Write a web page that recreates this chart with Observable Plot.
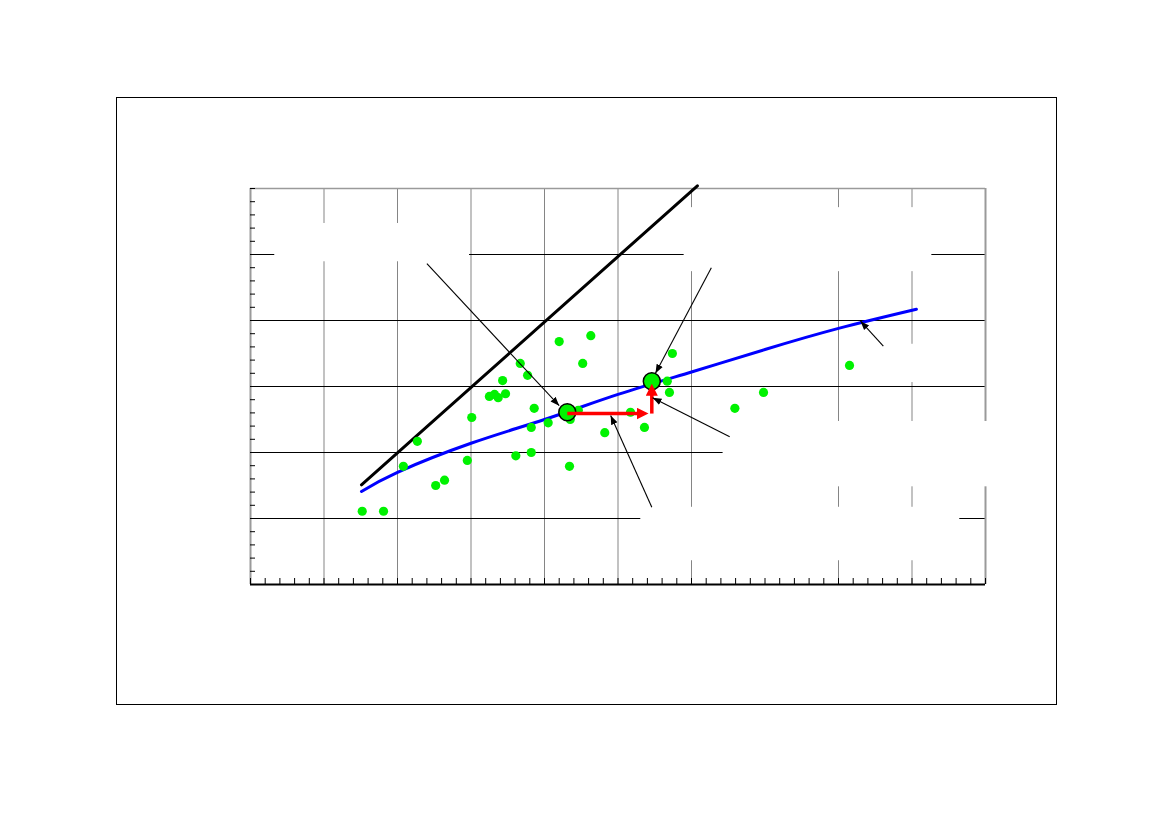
<!DOCTYPE html>
<html>
<head>
<meta charset="utf-8">
<script src="https://cdn.jsdelivr.net/npm/d3@7"></script>
<script src="https://cdn.jsdelivr.net/npm/@observablehq/plot@0.6"></script>
<style>
html, body { margin: 0; padding: 0; background: #fff; }
#wrap { position: relative; width: 1169px; height: 827px; }
#frame { position: absolute; left: 116px; top: 97px; width: 939px; height: 606px; border: 1px solid #000; }
#chart { position: absolute; left: 0; top: 0; }
</style>
</head>
<body>
<div id="wrap"><div id="frame"></div><div id="chart"></div></div>
<script>
// observed points (green)
const obsX = [1.52, 1.81, 2.08, 2.27, 2.52, 2.64, 2.95, 3.01, 3.25, 3.32, 3.37, 3.47, 3.43, 3.67, 3.77, 3.86, 3.82, 3.61, 3.82, 4.20, 4.63, 4.52, 5.74, 4.05, 4.35, 4.46, 4.82, 5.17, 5.36, 5.67, 5.70, 4.34, 6.59, 6.98, 8.15];
const obsY = [1.11, 1.11, 1.79, 2.17, 1.50, 1.58, 1.88, 2.53, 2.85, 2.88, 2.83, 2.89, 3.09, 3.35, 3.17, 2.67, 2.38, 1.95, 2.00, 3.68, 3.77, 3.35, 3.50, 2.45, 2.50, 2.64, 2.30, 2.61, 2.38, 3.08, 2.91, 1.79, 2.67, 2.91, 3.32];

// highlighted points (big circles)
const hiX = [4.31, 5.46];
const hiY = [2.61, 3.08];

// fitted curve (blue)
const fitX = [1.51, 2.0, 3.0, 4.0, 5.0, 6.0, 7.0, 8.0, 9.06];
const fitY = [1.41, 1.70, 2.14, 2.50, 2.88, 3.22, 3.56, 3.88, 4.17];

// 1:1 line (black)
const lineX = [1.51, 6.08];
const lineY = [1.51, 6.04];

// red step arrows
const stepX1 = [4.31, 5.46];
const stepY1 = [2.59, 2.59];
const stepX2 = [5.35, 5.46];
const stepY2 = [2.59, 2.97];

// annotation arrows (black)
const annX1 = [2.40, 6.27, 6.52, 5.46, 8.61];
const annY1 = [4.86, 4.80, 2.24, 1.17, 3.61];
const annX2 = [4.20, 5.51, 5.47, 4.90, 8.30];
const annY2 = [2.71, 3.20, 2.83, 2.56, 3.99];

// empty label boxes (white, hide the grid)
const boxX1 = [0.33, 5.90, 6.43, 5.31, 8.63];
const boxX2 = [2.98, 9.27, 10.2, 9.65, 9.94];
const boxY1 = [4.89, 4.74, 1.48, 0.36, 3.06];
const boxY2 = [5.47, 5.71, 2.47, 1.17, 3.64];

// grid and ticks
const gridX = [1, 2, 3, 4, 5, 6, 8, 9];
const gridY = [1, 2, 3, 4, 5];
const xMinor = d3.range(0, 10.001, 0.2);
const yMinor = d3.range(0, 6.001, 0.2);

const obs = obsX.map((x, i) => ({x, y: obsY[i]}));
const hi = hiX.map((x, i) => ({x, y: hiY[i]}));
const fit = fitX.map((x, i) => ({x, y: fitY[i]}));
const one = lineX.map((x, i) => ({x, y: lineY[i]}));
const steps = stepX1.map((x, i) => ({x1: x, y1: stepY1[i], x2: stepX2[i], y2: stepY2[i]}));
const anns = annX1.map((x, i) => ({x1: x, y1: annY1[i], x2: annX2[i], y2: annY2[i]}));
const boxes = boxX1.map((x, i) => ({x1: x, x2: boxX2[i], y1: boxY1[i], y2: boxY2[i]}));

function filledArrow(halfWidth, size, refX) {
  return (color) => {
    const m = d3.create("svg:marker")
      .attr("viewBox", "-10 -5 10 10")
      .attr("refX", refX).attr("refY", 0)
      .attr("markerWidth", size).attr("markerHeight", size)
      .attr("markerUnits", "userSpaceOnUse")
      .attr("orient", "auto");
    m.append("path").attr("d", `M-10,${-halfWidth}L0,0L-10,${halfWidth}Z`).attr("fill", color).attr("stroke", "none");
    return m.node();
  };
}

function build(blackMarker, redMarker) {
  return Plot.plot({
    width: 1169,
    height: 827,
    marginLeft: 250,
    marginRight: 184,
    marginTop: 188,
    marginBottom: 243,
    style: {background: "transparent", overflow: "visible", fontFamily: "Liberation Sans, Arial, sans-serif"},
    x: {domain: [0, 10]},
    y: {domain: [0, 6]},
    marks: [
      Plot.ruleX(gridX, {stroke: "#858585", strokeWidth: 1}),
      Plot.ruleY(gridY, {stroke: "#000", strokeWidth: 1.2}),
      Plot.ruleX([0, 10], {stroke: "#9a9a9a", strokeWidth: 2}),
      Plot.ruleY([6], {stroke: "#9a9a9a", strokeWidth: 1.5}),
      Plot.ruleY([0], {stroke: "#000", strokeWidth: 2}),
      Plot.rect(boxes, {x1: "x1", x2: "x2", y1: "y1", y2: "y2", fill: "white"}),
      Plot.axisX(xMinor, {anchor: "bottom", tickSize: -6, tickFormat: () => "", label: null, stroke: "#000"}),
      Plot.axisY(yMinor, {anchor: "left", tickSize: -5, tickFormat: () => "", label: null, stroke: "#000"}),
      Plot.line(one, {x: "x", y: "y", stroke: "#000", strokeWidth: 3}),
      Plot.line(fit, {x: "x", y: "y", stroke: "#0000ff", strokeWidth: 3, curve: "natural"}),
      Plot.dot(obs, {x: "x", y: "y", r: 4.6, fill: "#00f200", stroke: "none"}),
      Plot.dot(hi, {x: "x", y: "y", r: 8.5, fill: "#00f200", stroke: "#000", strokeWidth: 1.5}),
      Plot.link(steps, {x1: "x1", y1: "y1", x2: "x2", y2: "y2", stroke: "#ff0000", strokeWidth: 3.5, markerEnd: redMarker}),
      Plot.link(anns, {x1: "x1", y1: "y1", x2: "x2", y2: "y2", stroke: "#000", strokeWidth: 1.1, markerEnd: blackMarker})
    ]
  });
}

let svg;
try {
  svg = build(filledArrow(3.8, 9, 0), filledArrow(5, 12, -4));
} catch (e) {
  svg = build("arrow", "arrow");
}
document.getElementById("chart").appendChild(svg);
</script>
</body>
</html>
